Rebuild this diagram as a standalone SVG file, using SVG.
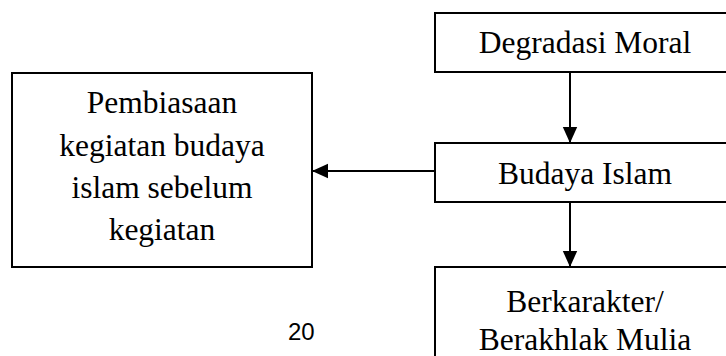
<svg xmlns="http://www.w3.org/2000/svg" width="726" height="356" viewBox="0 0 726 356">
<style>
.box{fill:#fff;stroke:#000;stroke-width:2}
.t{font-family:"Liberation Serif","Times New Roman",serif;font-size:31.5px;fill:#000;text-anchor:middle}
.c{stroke:#000;stroke-width:2;fill:none}
</style>
<defs>
<marker id="ah" markerWidth="8" markerHeight="8" refX="7.5" refY="4" orient="auto" markerUnits="strokeWidth" viewBox="0 0 8 8">
<path d="M0,0.4 L8,4 L0,7.6 Z" fill="#000"/>
</marker>
</defs>
<rect width="726" height="356" fill="#fff"/>
<g id="connectors">
<line class="c" x1="570" y1="72" x2="570" y2="142" marker-end="url(#ah)"/>
<line class="c" x1="570" y1="202" x2="570" y2="266" marker-end="url(#ah)"/>
<line class="c" x1="435" y1="171" x2="313" y2="171" marker-end="url(#ah)"/>
</g>
<g id="degradasi">
<rect class="box" x="435" y="13" width="300" height="59"/>
<text class="t" x="585" y="53">Degradasi Moral</text>
</g>
<g id="budaya">
<rect class="box" x="435" y="143" width="300" height="59"/>
<text class="t" x="585" y="184">Budaya Islam</text>
</g>
<g id="berkarakter">
<rect class="box" x="435" y="267" width="300" height="100"/>
<text class="t" x="585" y="312">Berkarakter/</text>
<text class="t" x="585" y="350">Berakhlak Mulia</text>
</g>
<g id="pembiasaan">
<rect class="box" x="12" y="73" width="300" height="194"/>
<text class="t" x="162" y="113">Pembiasaan</text>
<text class="t" x="162" y="156">kegiatan budaya</text>
<text class="t" x="162" y="198">islam sebelum</text>
<text class="t" x="162" y="240">kegiatan</text>
</g>
<text x="288" y="340" font-family="Liberation Sans, Arial, sans-serif" font-size="24" fill="#000">20</text>
</svg>
